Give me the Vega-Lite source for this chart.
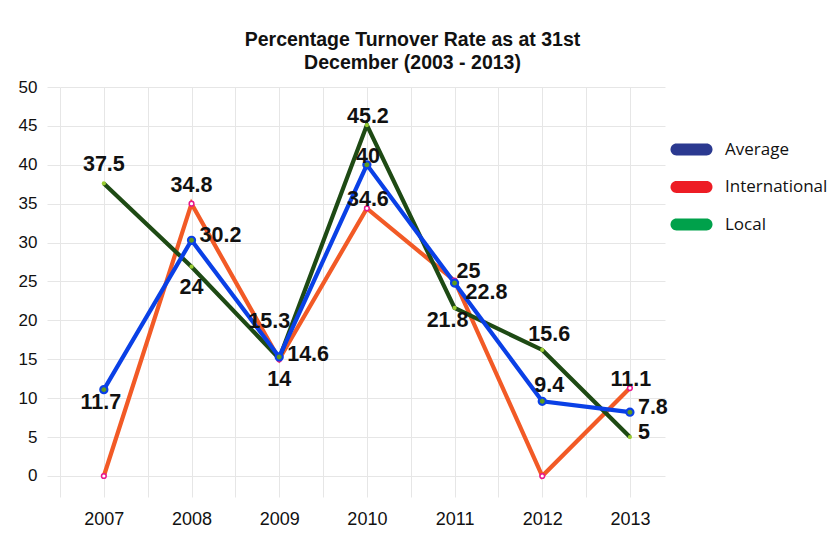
{
  "$schema": "https://vega.github.io/schema/vega-lite/v6.json",
  "width": 605,
  "height": 410,
  "autosize": {"type": "none"},
  "padding": {"left": 60, "top": 87, "right": 163, "bottom": 50},
  "background": "white",
  "title": {
    "text": ["Percentage Turnover Rate as at 31st", "December (2003 - 2013)"],
    "font": "Liberation Sans",
    "fontSize": 19.5,
    "fontWeight": "bold",
    "color": "#111111",
    "anchor": "middle",
    "dx": 50,
    "offset": 5,
    "lineHeight": 23
  },
  "config": {"view": {"stroke": null}},
  "data": {
    "values": [
      {"year": 2007, "series": "Average", "value": 11.1, "label": "11.7", "pos": "s"},
      {"year": 2008, "series": "Average", "value": 30.3, "label": "30.2", "pos": "e"},
      {"year": 2009, "series": "Average", "value": 15.3, "label": "15.3", "pos": "nw"},
      {"year": 2010, "series": "Average", "value": 40.0, "label": "40", "pos": "n2"},
      {"year": 2011, "series": "Average", "value": 24.8, "label": "22.8", "pos": "se"},
      {"year": 2012, "series": "Average", "value": 9.6, "label": "9.4", "pos": "nr"},
      {"year": 2013, "series": "Average", "value": 8.2, "label": "7.8", "pos": "e"},
      {"year": 2007, "series": "International", "value": 0, "label": "", "pos": "none"},
      {"year": 2008, "series": "International", "value": 35.0, "label": "34.8", "pos": "n"},
      {"year": 2009, "series": "International", "value": 15.0, "label": "14.6", "pos": "e"},
      {"year": 2010, "series": "International", "value": 34.4, "label": "34.6", "pos": "n2"},
      {"year": 2011, "series": "International", "value": 25.1, "label": "25", "pos": "ne"},
      {"year": 2012, "series": "International", "value": 0, "label": "", "pos": "none"},
      {"year": 2013, "series": "International", "value": 11.3, "label": "11.1", "pos": "n2"},
      {"year": 2007, "series": "Local", "value": 37.6, "label": "37.5", "pos": "n"},
      {"year": 2008, "series": "Local", "value": 26.9, "label": "24", "pos": "s2"},
      {"year": 2009, "series": "Local", "value": 15.1, "label": "14", "pos": "s2"},
      {"year": 2010, "series": "Local", "value": 45.1, "label": "45.2", "pos": "n2"},
      {"year": 2011, "series": "Local", "value": 21.6, "label": "21.8", "pos": "sw"},
      {"year": 2012, "series": "Local", "value": 16.2, "label": "15.6", "pos": "nr"},
      {"year": 2013, "series": "Local", "value": 5.0, "label": "5", "pos": "e"}
    ]
  },
  "encoding": {
    "x": {
      "field": "year",
      "type": "quantitative",
      "scale": {"domain": [2006.5, 2013.4], "nice": false, "zero": false},
      "axis": {
        "title": null,
        "values": [2006.5, 2007, 2007.5, 2008, 2008.5, 2009, 2009.5, 2010, 2010.5, 2011, 2011.5, 2012, 2012.5, 2013],
        "labelExpr": "datum.value % 1 === 0 ? '' + datum.value : ''",
        "grid": true,
        "gridColor": "#e6e6e6",
        "domain": false,
        "ticks": false,
        "labelFont": "Liberation Sans",
        "labelFontSize": 18,
        "labelColor": "#111111",
        "labelPadding": 13,
        "labelFlush": false,
        "labelOverlap": false
      }
    },
    "y": {
      "field": "value",
      "type": "quantitative",
      "scale": {"domain": [-2.7, 50], "nice": false, "zero": false},
      "axis": {
        "title": null,
        "values": [0, 5, 10, 15, 20, 25, 30, 35, 40, 45, 50],
        "grid": true,
        "gridColor": "#e6e6e6",
        "domain": false,
        "ticks": true,
        "tickColor": "#e6e6e6",
        "tickSize": 13,
        "labelPadding": 10,
        "labelFont": "Liberation Sans",
        "labelFontSize": 17,
        "labelColor": "#111111",
        "labelFlush": false
      }
    }
  },
  "layer": [
    {"transform": [{"filter": "datum.series === 'International'"}], "mark": {"type": "line", "color": "#f25a26", "strokeWidth": 4.2}},
    {"transform": [{"filter": "datum.series === 'Local'"}], "mark": {"type": "line", "color": "#1e4a14", "strokeWidth": 4.2}},
    {"transform": [{"filter": "datum.series === 'Average'"}], "mark": {"type": "line", "color": "#0a40e6", "strokeWidth": 4.2}},
    {"transform": [{"filter": "datum.series === 'International'"}], "mark": {"type": "point", "shape": "circle", "filled": true, "fill": "white", "stroke": "#e8168c", "strokeWidth": 1.5, "size": 22, "opacity": 1}},
    {"transform": [{"filter": "datum.series === 'Local'"}], "mark": {"type": "circle", "color": "#9acd32", "size": 18, "opacity": 1}},
    {"transform": [{"filter": "datum.series === 'Average'"}], "mark": {"type": "point", "shape": "circle", "filled": true, "fill": "#5f9a1e", "stroke": "#0a40e6", "strokeWidth": 2.2, "size": 50, "opacity": 1}},
    {
      "mark": {"type": "circle", "opacity": 0},
      "encoding": {
        "color": {
          "field": "series",
          "type": "nominal",
          "scale": {"domain": ["Average", "International", "Local"], "range": ["#2b3990", "#ed1c24", "#00a14b"]},
          "legend": {
            "title": null,
            "orient": "none",
            "legendX": 614,
            "legendY": 45,
            "padding": 0,
            "symbolType": "M-0.86,-0.34L0.86,-0.34A0.34,0.34 0 0 1 0.86,0.34L-0.86,0.34A0.34,0.34 0 0 1 -0.86,-0.34Z",
            "symbolSize": 1225,
            "symbolStrokeWidth": 0,
            "symbolOpacity": 1,
            "labelFont": "Open Sans",
            "labelFontSize": 17,
            "labelColor": "#111111",
            "labelOffset": 16,
            "rowPadding": 11.5,
            "labelLimit": 300,
            "encode": {"symbols": {"update": {"opacity": {"value": 1}, "fillOpacity": {"value": 1}}}}
          }
        }
      }
    },
    {"transform": [{"filter": "datum.pos === 'n'"}], "mark": {"type": "text", "font": "Liberation Sans", "fontWeight": "bold", "fontSize": 21.5, "color": "#111111", "baseline": "middle", "align": "center", "dx": 0, "dy": -18}, "encoding": {"text": {"field": "label"}}},
    {"transform": [{"filter": "datum.pos === 'nr'"}], "mark": {"type": "text", "font": "Liberation Sans", "fontWeight": "bold", "fontSize": 21.5, "color": "#111111", "baseline": "middle", "align": "center", "dx": 7, "dy": -15}, "encoding": {"text": {"field": "label"}}},
    {"transform": [{"filter": "datum.pos === 'n2'"}], "mark": {"type": "text", "font": "Liberation Sans", "fontWeight": "bold", "fontSize": 21.5, "color": "#111111", "baseline": "middle", "align": "center", "dx": 1, "dy": -8}, "encoding": {"text": {"field": "label"}}},
    {"transform": [{"filter": "datum.pos === 's'"}], "mark": {"type": "text", "font": "Liberation Sans", "fontWeight": "bold", "fontSize": 21.5, "color": "#111111", "baseline": "middle", "align": "center", "dx": -3, "dy": 13}, "encoding": {"text": {"field": "label"}}},
    {"transform": [{"filter": "datum.pos === 's2'"}], "mark": {"type": "text", "font": "Liberation Sans", "fontWeight": "bold", "fontSize": 21.5, "color": "#111111", "baseline": "middle", "align": "center", "dx": 0, "dy": 21}, "encoding": {"text": {"field": "label"}}},
    {"transform": [{"filter": "datum.pos === 'e'"}], "mark": {"type": "text", "font": "Liberation Sans", "fontWeight": "bold", "fontSize": 21.5, "color": "#111111", "baseline": "middle", "align": "left", "dx": 8, "dy": -4}, "encoding": {"text": {"field": "label"}}},
    {"transform": [{"filter": "datum.pos === 'ne'"}], "mark": {"type": "text", "font": "Liberation Sans", "fontWeight": "bold", "fontSize": 21.5, "color": "#111111", "baseline": "middle", "align": "left", "dx": 2, "dy": -9}, "encoding": {"text": {"field": "label"}}},
    {"transform": [{"filter": "datum.pos === 'se'"}], "mark": {"type": "text", "font": "Liberation Sans", "fontWeight": "bold", "fontSize": 21.5, "color": "#111111", "baseline": "middle", "align": "left", "dx": 11, "dy": 10}, "encoding": {"text": {"field": "label"}}},
    {"transform": [{"filter": "datum.pos === 'sw'"}], "mark": {"type": "text", "font": "Liberation Sans", "fontWeight": "bold", "fontSize": 21.5, "color": "#111111", "baseline": "middle", "align": "center", "dx": -7, "dy": 13}, "encoding": {"text": {"field": "label"}}},
    {"transform": [{"filter": "datum.pos === 'nw'"}], "mark": {"type": "text", "font": "Liberation Sans", "fontWeight": "bold", "fontSize": 21.5, "color": "#111111", "baseline": "middle", "align": "center", "dx": -10, "dy": -35}, "encoding": {"text": {"field": "label"}}}
  ]
}
